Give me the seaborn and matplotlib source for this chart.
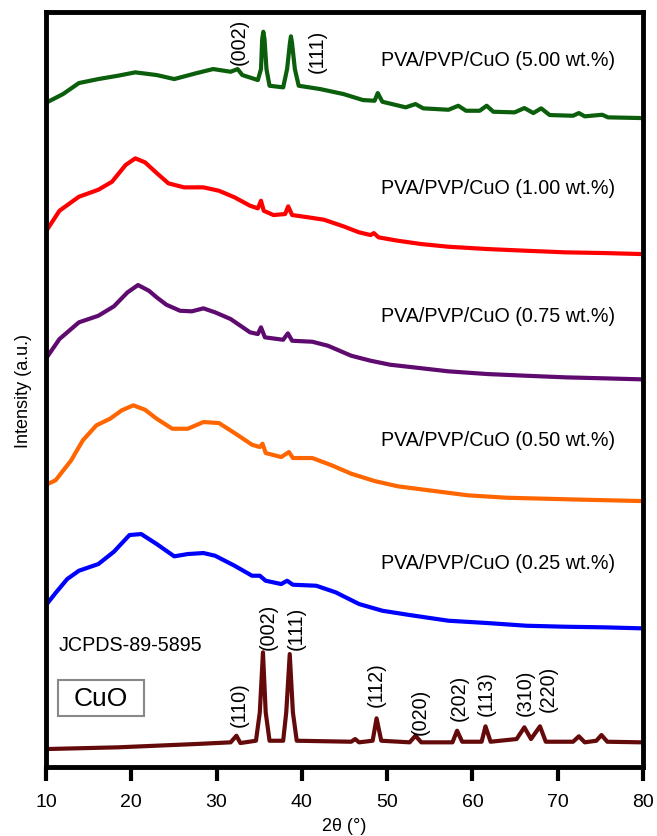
import pandas as pd
import matplotlib.pyplot as plt
from matplotlib.patches import Rectangle
import seaborn as sns

# XRD Muster, Werte (Intensitaet in a.u., schon versetzt)
theta_500 = [10.1, 12.0, 13.86, 16.14, 18.42, 20.47, 22.98, 25.04, 27.55, 29.6, 31.65, 32.47, 33.02,
             34.84, 35.21, 35.35, 35.48, 35.62, 35.85, 36.21, 37.81, 38.27, 38.6, 38.72, 38.85,
             39.18, 39.63, 42.14, 44.88,
             47.16, 48.53, 48.9, 49.44, 52.18, 53.32, 54.23, 57.2, 58.34, 59.25, 60.85, 61.67,
             62.45, 64.95, 66.09, 67.14, 68.06, 69.06, 71.8, 72.48, 73.17, 75.22, 75.9, 79.8]
int_500 = [664.7, 673, 684, 688, 691.3, 694.7, 692, 688, 693.7, 698, 695.3, 698, 692,
           687, 698, 728, 735.3, 728, 698, 681.3, 679.7, 698, 724, 730.7, 724,
           698, 681.3, 678, 673,
           667, 666.3, 674, 665.3, 659.7, 663, 658.7, 657.3, 661.3, 656.3, 656.3, 661.3,
           655.3, 654.7, 659, 654, 658.7, 652, 651.3, 654, 650.7, 652.3, 649.7, 649]

theta_100 = [10.1, 11.58, 13.86, 16.14, 17.74, 19.33, 20.47, 21.61, 22.98, 24.35, 26.18, 28.46,
             30.28, 32.11, 33.93, 34.84, 35.21, 35.53, 36.67, 38.04, 38.4, 38.86, 40.78, 42.6,
             44.88, 46.71, 48.07, 48.44, 48.99, 51.27, 54.0, 57.2, 61.76, 66.32, 70.89, 75.45, 79.8]
int_100 = [537, 556.3, 570.3, 577.3, 585.3, 602, 608.7, 604.7, 594, 583.7, 579.7, 579.7,
           576.3, 569.7, 561.3, 558.7, 566.3, 556.3, 552, 553, 560.7, 552, 549.7, 547.3,
           540.7, 534.7, 532, 534, 529.7, 526.3, 523, 520.3, 518, 516.3, 514.7, 514, 513]

theta_075 = [10.1, 11.58, 13.86, 16.14, 17.96, 19.56, 20.79, 22.07, 22.98, 24.12, 25.72, 27.09,
             28.46, 29.83, 31.65, 33.93, 34.84, 35.21, 35.67, 37.81, 38.36, 38.86, 41.23, 43.06,
             45.79, 48.07, 50.36, 53.09, 57.2, 61.76, 66.32, 70.89, 75.45, 79.8]
int_075 = [409.7, 428, 444.7, 451.3, 460.7, 474.7, 482, 476.3, 469.7, 462.3, 456.3, 455.7,
           458.7, 454.7, 448, 434.7, 433, 439.7, 429.7, 427.3, 433.7, 426.3, 425.3, 421.3,
           411.3, 406.3, 402.3, 399.7, 395.7, 393, 391.3, 389.7, 388.7, 387.7]

theta_050 = [10.1, 11.12, 12.95, 14.32, 15.91, 17.51, 18.88, 20.24, 21.61, 22.98, 24.81, 26.63,
             28.46, 30.28, 32.11, 34.16, 35.07, 35.39, 35.76, 37.58, 38.49, 38.95, 41.23, 43.51,
             45.79, 48.53, 51.27, 54.92, 59.48, 64.04, 68.6, 73.17, 79.8]
int_050 = [282.7, 286.7, 306.7, 326.7, 341.7, 348.3, 356.7, 361.7, 357.3, 348.3, 338.3, 338.3,
           345, 344, 334, 322.3, 320, 323.3, 314, 310, 315, 309, 309, 301.7,
           293.3, 286, 280.7, 276.7, 271.7, 269.3, 268.3, 267.3, 266]

theta_025 = [10.1, 11.12, 12.49, 13.86, 16.14, 17.96, 19.79, 21.16, 22.98, 25.04, 26.63, 28.46,
             29.83, 32.11, 34.16, 35.07, 35.76, 37.58, 38.27, 38.95, 41.69, 43.97, 46.71, 49.44,
             52.64, 57.2, 61.76, 66.32, 70.89, 75.45, 79.8]
int_025 = [163, 174, 188, 196.3, 203, 215.3, 232, 233, 223, 210.7, 213, 214,
           211.3, 201.3, 191.3, 191.3, 186.3, 183, 186.3, 182.3, 181.3, 174.7, 163, 156.3,
           152, 146.3, 144, 141.3, 140.3, 139.7, 138.7]

theta_cuo = [10.1, 18.42, 27.55, 31.65, 32.33, 32.79, 34.62, 35.07, 35.44, 35.76, 36.21, 37.81,
             38.17, 38.58, 38.95, 39.4, 45.79, 46.25, 46.71, 48.3, 48.76, 49.31, 52.64, 53.32,
             54.0, 57.66, 58.2, 58.8, 61.08, 61.53, 62.13, 65.18, 66.09, 66.87, 67.92, 68.6,
             71.8, 72.48, 73.17, 74.53, 75.13, 75.81, 79.8]
int_cuo = [18, 19.7, 23, 24.7, 31.3, 24, 26.3, 54.7, 114.7, 54.7, 26.3, 26.3,
           54.7, 113, 54.7, 26.3, 25.3, 28, 24.7, 26.3, 48.7, 26.3, 24.7, 31.3,
           24.7, 24.7, 36.3, 25.3, 25.3, 40.7, 25.3, 28, 39.7, 28, 40.7, 25.3,
           25.3, 30.7, 24.7, 26.3, 32, 25.3, 24.7]

proben = ["5.00", "1.00", "0.75", "0.50", "0.25", "CuO"]
farben = ["#0b5e0b", "#ff0000", "#5e0a6e", "#ff6600", "#0000ff", "#650a0a"]
label_y = [708, 580, 452, 328, 205]

# Reflexe (hkl) mit Position
peaks_top = ["(002)", "(111)"]
peaks_top_x = [32.63, 41.77]
peaks_top_y = [726, 717]
peaks_cuo = ["(110)", "(002)", "(111)", "(112)", "(020)", "(202)", "(113)", "(310)", "(220)"]
peaks_cuo_x = [32.66, 36.06, 39.31, 48.77, 53.85, 58.45, 61.66, 66.15, 68.89]
peaks_cuo_y = [63.5, 141, 140, 83.3, 56, 70.5, 74, 75, 79]

frames = []
for name, t, i in zip(proben,
                      [theta_500, theta_100, theta_075, theta_050, theta_025, theta_cuo],
                      [int_500, int_100, int_075, int_050, int_025, int_cuo]):
    frames.append(pd.DataFrame({"theta": t, "intensity": i, "probe": name}))
df = pd.concat(frames, ignore_index=True)

sns.set_style("white")
plt.rcParams['font.family'] = ['Liberation Sans', 'DejaVu Sans']
plt.rcParams['text.color'] = 'black'
plt.rcParams['axes.labelcolor'] = 'black'
plt.rcParams['xtick.color'] = 'black'

fig = plt.figure(figsize=(6.57, 8.37), dpi=100)
ax = fig.add_axes([0.070, 0.0824, 0.9087, 0.902])

sns.lineplot(data=df, x="theta", y="intensity", hue="probe", palette=farben,
             hue_order=proben, estimator=None, sort=False, linewidth=3,
             legend=False, ax=ax)

for p, y in zip(proben[:5], label_y):
    ax.text(49.27, y, f"PVA/PVP/CuO ({p} wt.%)", fontsize=14.2, ha="left", va="center")

for lab, x, y in zip(peaks_top, peaks_top_x, peaks_top_y):
    ax.text(x, y, lab, fontsize=14.2, rotation=90, ha="center", va="center")
for lab, x, y in zip(peaks_cuo, peaks_cuo_x, peaks_cuo_y):
    ax.text(x, y, lab, fontsize=14.2, rotation=90, ha="center", va="center")

ax.text(11.52, 123, "JCPDS-89-5895", fontsize=14.2, ha="left", va="center")
ax.add_patch(Rectangle((0.020, 0.0675), 0.144, 0.0477, transform=ax.transAxes,
                       facecolor="white", edgecolor="#888888", linewidth=1.5, zorder=3))
ax.text(0.092, 0.0914, "CuO", fontsize=19, ha="center", va="center",
        transform=ax.transAxes, zorder=4)

ax.set_xlim(10, 80)
ax.set_ylim(0, 755)
ax.set_xticks([10, 20, 30, 40, 50, 60, 70, 80])
ax.set_yticks([])
ax.tick_params(axis="x", direction="out", length=10, width=3, labelsize=14, pad=9,
               color="black", labelcolor="black", bottom=True)
for s in ax.spines.values():
    s.set_linewidth(3.5)
    s.set_color("black")

ax.set_xlabel("2θ (°)", fontsize=13, labelpad=5)
ax.set_ylabel("Intensity (a.u.)", fontsize=13, labelpad=10)

plt.savefig("out.png", dpi=100)
